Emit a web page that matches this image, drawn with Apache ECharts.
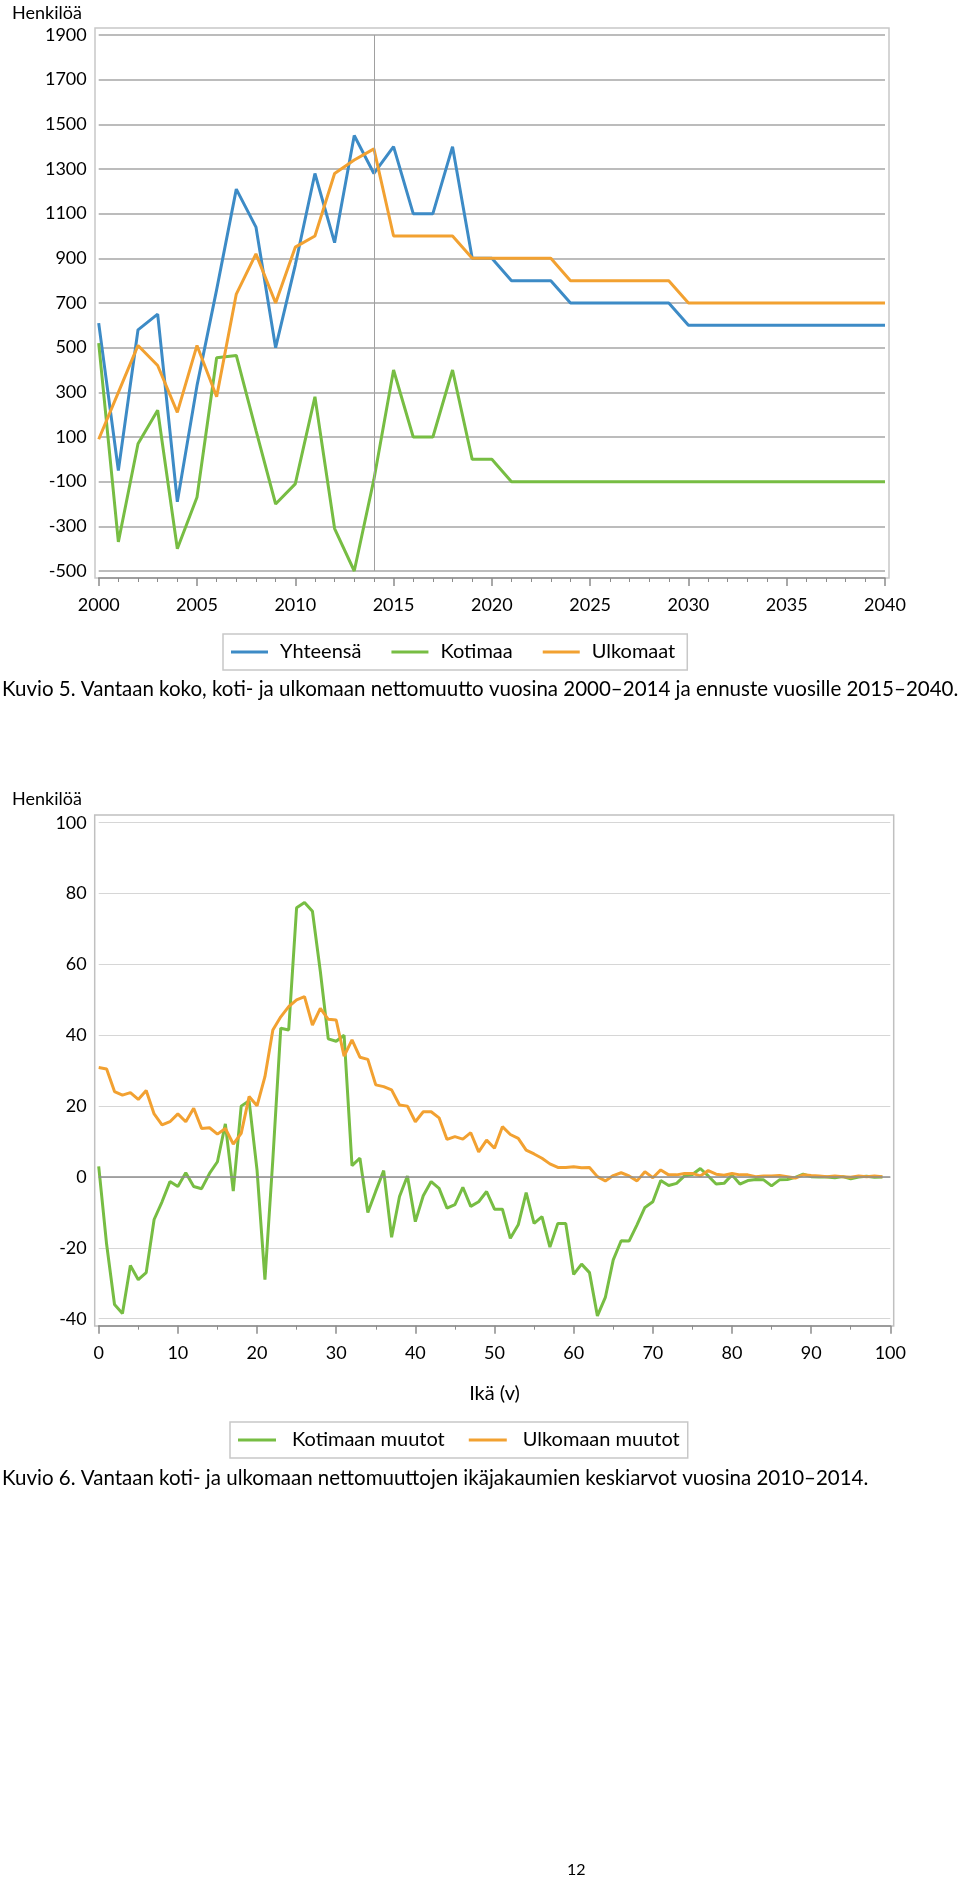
<!DOCTYPE html>
<html>
<head>
<meta charset="utf-8">
<script src="https://cdn.jsdelivr.net/npm/echarts@6/dist/echarts.min.js"></script>
<style>
html,body{margin:0;padding:0;background:#fff;}
#c{width:960px;height:1877px;}
</style>
</head>
<body>
<div id="c"></div>
<script>
// ---------- Chart 1 data (Kuvio 5) ----------
const years = [2000,2001,2002,2003,2004,2005,2006,2007,2008,2009,2010,2011,2012,2013,2014,2015,2016,2017,2018,2019,2020,
  2021,2022,2023,2024,2025,2026,2027,2028,2029,2030,2031,2032,2033,2034,2035,2036,2037,2038,2039,2040];
const yhteensa = [610,-50,580,650,-190,330,760,1210,1040,500,870,1280,970,1450,1280,1400,1100,1100,1400,900,900,
  800,800,800,700,700,700,700,700,700,600,600,600,600,600,600,600,600,600,600,600];
const kotimaa = [520,-370,70,220,-400,-170,455,465,130,-200,-110,280,-310,-500,-90,400,100,100,400,0,0,
  -100,-100,-100,-100,-100,-100,-100,-100,-100,-100,-100,-100,-100,-100,-100,-100,-100,-100,-100,-100];
const ulkomaat = [90,300,510,420,210,510,280,740,920,700,950,1000,1280,1340,1390,1000,1000,1000,1000,900,900,
  900,900,900,800,800,800,800,800,800,700,700,700,700,700,700,700,700,700,700,700];
const yearTickLabels = ['2000','2005','2010','2015','2020','2025','2030','2035','2040'];
const chart1SeriesNames = ['Yhteensä','Kotimaa','Ulkomaat'];

// ---------- Chart 2 data (Kuvio 6) ----------
const ages = [0,1,2,3,4,5,6,7,8,9,10,11,12,13,14,15,16,17,18,19,20,21,22,23,24,25,26,27,28,29,30,31,32,33,34,35,36,37,38,39,
  40,41,42,43,44,45,46,47,48,49,50,51,52,53,54,55,56,57,58,59,60,61,62,63,64,65,66,67,68,69,70,71,72,73,74,75,76,77,78,79,
  80,81,82,83,84,85,86,87,88,89,90,91,92,93,94,95,96,97,98,99];
const kotimaanMuutot = [3,-19,-36,-38.5,-25,-29,-27,-12,-7,-1.3,-2.7,1.2,-2.7,-3.3,1,4.3,15,-4,20,21.5,
  2,-29,5,42,41.5,76,77.5,75,58,39,38.3,40,3.2,5.3,-10,-4,1.8,-17,-5.5,0.3,
  -12.6,-5.3,-1.3,-3.2,-8.8,-7.8,-2.9,-8.3,-7,-4.1,-9.1,-9.1,-17.3,-13.5,-4.4,-13.1,-11.2,-19.8,-13.1,-13.1,
  -27.5,-24.6,-27,-39.2,-34,-23.4,-18,-18.1,-13.5,-8.6,-7,-1,-2.4,-1.8,0.3,0.7,2.4,0.3,-2,-1.8,
  0.6,-2,-1,-0.7,-0.8,-2.5,-0.8,-0.7,-0.1,0.8,0.1,0,0,-0.2,0.1,-0.5,0,0.2,-0.1,0];
const ulkomaanMuutot = [30.9,30.5,24.1,23.1,23.8,21.9,24.4,17.8,14.7,15.6,17.8,15.6,19.4,13.7,13.9,12.1,13.7,9.3,12.3,22.7,
  20.1,28.3,41.5,45.2,48.1,50,50.9,42.9,47.6,44.5,44.3,34.1,38.7,33.8,33.2,26,25.5,24.6,20.3,20,
  15.6,18.4,18.4,16.7,10.6,11.4,10.7,12.5,7.1,10.4,8.1,14.2,12,10.9,7.6,6.5,5.3,3.7,2.7,2.7,
  2.9,2.6,2.7,0.1,-1.1,0.4,1.2,0.3,-1.1,1.5,-0.2,2,0.6,0.6,1,1,0.3,1.8,0.8,0.5,
  1,0.6,0.6,0.1,0.3,0.3,0.4,0.1,-0.3,0.6,0.4,0.3,0.1,0.3,0.1,-0.1,0.3,0.1,0.3,0.1];
const chart2SeriesNames = ['Kotimaan muutot','Ulkomaan muutot'];

// ---------- texts ----------
const yUnit = 'Henkilöä';
const caption5 = 'Kuvio 5. Vantaan koko, koti- ja ulkomaan nettomuutto vuosina 2000–2014 ja ennuste vuosille 2015–2040.';
const caption6 = 'Kuvio 6. Vantaan koti- ja ulkomaan nettomuuttojen ikäjakaumien keskiarvot vuosina 2010–2014.';
const xName2 = 'Ikä (v)';
const pageNo = '12';

const FONT = 'Lato';
const BLUE = '#3d8bc6', GREEN = '#77bd43', ORANGE = '#f2a131';

function pairs(xs, ys){ return xs.map((x,i)=>[x, ys[i]]); }

const chart = echarts.init(document.getElementById('c'), null, {renderer:'canvas'});
const txt = {fontFamily: FONT, color:'#000', fontSize:18};
const plain = v => String(v);

const option = {
  animation:false,
  backgroundColor:'#fff',
  textStyle:{fontFamily:FONT},
  grid:[
    {left:98.7, top:35, width:786.3, height:536, containLabel:false},
    {left:98.7, top:822.7, width:791.6, height:496, containLabel:false}
  ],
  xAxis:[
    {type:'value', gridIndex:0, min:2000, max:2040, interval:5, offset:7,
     axisLine:{show:true, onZero:false, lineStyle:{color:'#8c8c8c', width:1.5}},
     axisTick:{show:true, length:8, lineStyle:{color:'#8c8c8c', width:1.5}},
     minorTick:{show:true, splitNumber:5, length:4, lineStyle:{color:'#8c8c8c', width:1}},
     splitLine:{show:false},
     axisLabel:{...txt, margin:18, formatter:v=> yearTickLabels.includes(String(v)) ? String(v) : ''}},
    {type:'value', gridIndex:1, min:0, max:100, interval:10, offset:7,
     name:xName2, nameLocation:'middle', nameGap:58, nameTextStyle:{...txt, fontSize:20},
     axisLine:{show:true, onZero:false, lineStyle:{color:'#8c8c8c', width:1.5}},
     axisTick:{show:true, length:8, lineStyle:{color:'#8c8c8c', width:1.5}},
     minorTick:{show:true, splitNumber:2, length:4, lineStyle:{color:'#8c8c8c', width:1}},
     splitLine:{show:false},
     axisLabel:{...txt, margin:18, formatter:plain}}
  ],
  yAxis:[
    {type:'value', gridIndex:0, min:-500, max:1900, interval:200,
     axisLine:{show:false}, axisTick:{show:false},
     splitLine:{show:true, lineStyle:{color:'#a6a6a6', width:1.5}},
     axisLabel:{...txt, margin:12, formatter:plain}},
    {type:'value', gridIndex:1, min:-40, max:100, interval:20,
     axisLine:{show:false}, axisTick:{show:false},
     splitLine:{show:true, lineStyle:{color:'#d6d6d6', width:1.2}},
     axisLabel:{...txt, margin:12, formatter:plain}}
  ],
  legend:[
    {left:223, top:634, orient:'horizontal', data:chart1SeriesNames,
     icon:'rect', itemWidth:37, itemHeight:3, itemGap:30,
     borderColor:'#c8c8c8', borderWidth:1.5, padding:[8,12,8,8],
     textStyle:{...txt, fontSize:20, padding:[0,0,0,7]}},
    {left:230, top:1422, orient:'horizontal', data:chart2SeriesNames,
     icon:'rect', itemWidth:38, itemHeight:3, itemGap:24,
     borderColor:'#c8c8c8', borderWidth:1.5, padding:[8,8,8,8],
     textStyle:{...txt, fontSize:20, padding:[0,0,0,11]}}
  ],
  series:[
    {name:chart1SeriesNames[0], type:'line', xAxisIndex:0, yAxisIndex:0, data:pairs(years,yhteensa),
     symbol:'none', lineStyle:{color:BLUE, width:3}, itemStyle:{color:BLUE},
     markLine:{silent:true, symbol:'none', label:{show:false}, lineStyle:{color:'#a0a0a0', width:1, type:'solid'},
       data:[{xAxis:2014}]}},
    {name:chart1SeriesNames[1], type:'line', xAxisIndex:0, yAxisIndex:0, data:pairs(years,kotimaa),
     symbol:'none', lineStyle:{color:GREEN, width:3}, itemStyle:{color:GREEN}},
    {name:chart1SeriesNames[2], type:'line', xAxisIndex:0, yAxisIndex:0, data:pairs(years,ulkomaat),
     symbol:'none', lineStyle:{color:ORANGE, width:3}, itemStyle:{color:ORANGE}},
    {name:chart2SeriesNames[0], type:'line', xAxisIndex:1, yAxisIndex:1, data:pairs(ages,kotimaanMuutot),
     symbol:'none', lineStyle:{color:GREEN, width:3}, itemStyle:{color:GREEN},
     markLine:{silent:true, symbol:'none', label:{show:false}, lineStyle:{color:'#8c8c8c', width:1.5, type:'solid'},
       data:[{yAxis:0}]}},
    {name:chart2SeriesNames[1], type:'line', xAxisIndex:1, yAxisIndex:1, data:pairs(ages,ulkomaanMuutot),
     symbol:'none', lineStyle:{color:ORANGE, width:3}, itemStyle:{color:ORANGE}}
  ],
  graphic:[
    {type:'rect', silent:true, z:-1, shape:{x:95, y:28, width:794, height:550},
     style:{fill:null, stroke:'#c8c8c8', lineWidth:1.5}},
    {type:'rect', silent:true, z:-1, shape:{x:94.7, y:815, width:799, height:511},
     style:{fill:null, stroke:'#c0c0c0', lineWidth:1.5}},
    {type:'text', left:12, top:4, style:{text:yUnit, font:'18px '+FONT, fill:'#000'}},
    {type:'text', left:12, top:790, style:{text:yUnit, font:'18px '+FONT, fill:'#000'}},
    {type:'text', left:2, top:679, style:{text:caption5, font:'20.5px '+FONT, fill:'#000'}},
    {type:'text', left:2, top:1468, style:{text:caption6, font:'20.5px '+FONT, fill:'#000'}},
    {type:'text', left:567, top:1862, style:{text:pageNo, font:'16px '+FONT, fill:'#000'}}
  ]
};
chart.setOption(option);
</script>
</body>
</html>
